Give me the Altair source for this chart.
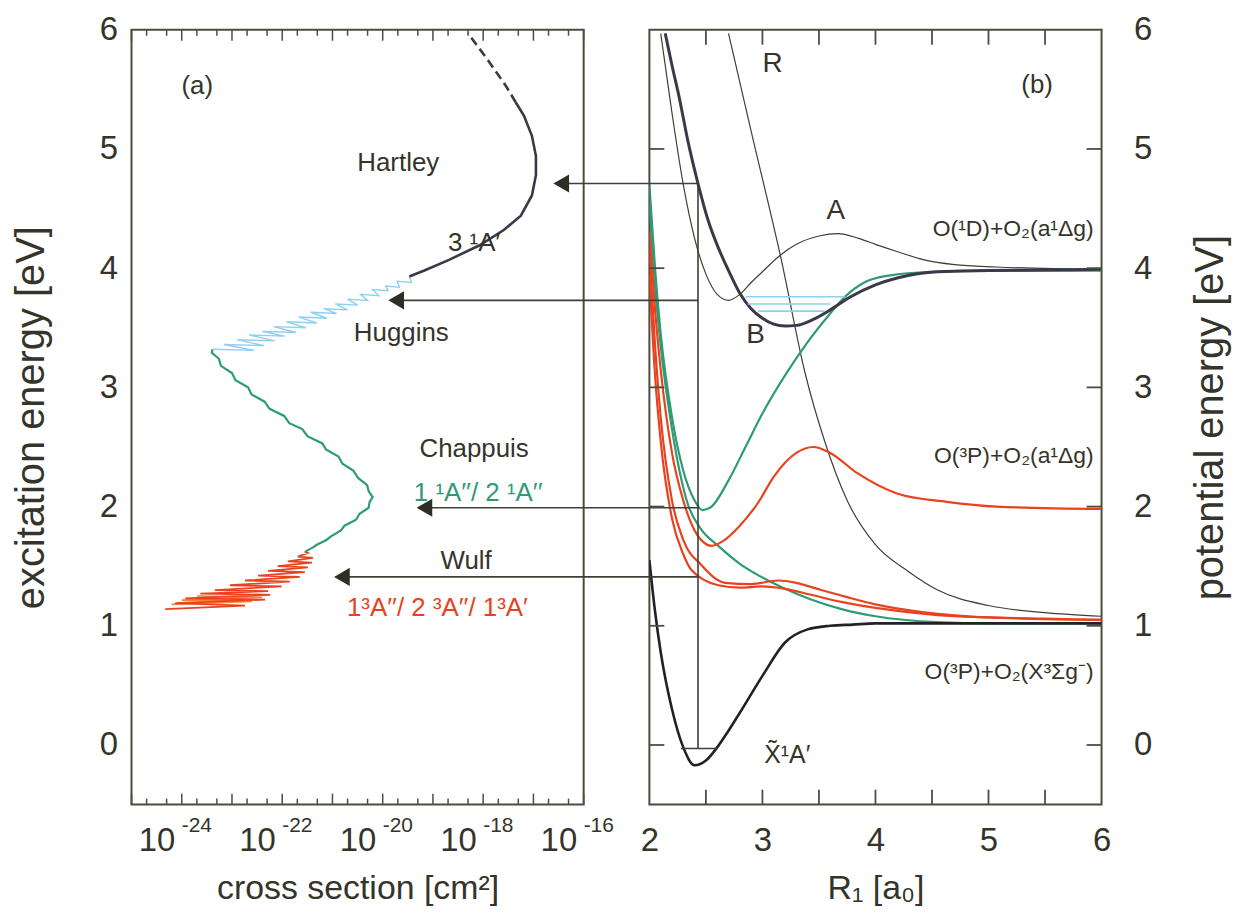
import altair as alt
import pandas as pd

FONT = "Liberation Sans"
INK = "#34342a"
FRAME = "#4d4d3f"
RED = "#e8421e"
ORANGE = "#f3853f"
TEAL = "#2f9b74"
BLUE = "#8fd0f0"
DARK = "#3b3949"
THIN = "#3f3f35"
GROUND = "#222222"

W, H = 454, 778

# ---------------- panel (a): log10(cross section / cm^2) versus excitation energy (eV)
wulf_log = [-24.33, -22.74, -24.13, -22.34, -23.93, -22.24, -23.63, -22.28, -23.34, -22.01,
            -23.04, -21.85, -22.74, -21.65, -22.48, -21.55, -22.28, -21.49, -22.09, -21.41,
            -21.89, -21.39, -21.69, -21.49, -21.55]
wulf_E = [1.14, 1.17, 1.19, 1.22, 1.23, 1.26, 1.27, 1.29, 1.30, 1.33,
          1.34, 1.37, 1.38, 1.41, 1.42, 1.45, 1.46, 1.49, 1.50, 1.53,
          1.54, 1.57, 1.58, 1.61, 1.62]
wulf2_log = [-24.20, -22.60, -24.00, -22.40, -23.70]
wulf2_E = [1.18, 1.205, 1.215, 1.24, 1.25]

chap_log = [-21.55, -21.38, -21.31, -21.12, -21.03, -20.83, -20.76, -20.53, -20.46, -20.28,
            -20.26, -20.20, -20.28, -20.31, -20.49, -20.58, -20.80, -20.88, -21.13, -21.20,
            -21.50, -21.60, -21.86, -21.96, -22.25, -22.35, -22.61, -22.68, -22.93, -23.00,
            -23.22, -23.26, -23.40, -23.39]
chap_E = [1.62, 1.66, 1.68, 1.72, 1.75, 1.80, 1.84, 1.89, 1.94, 1.99,
          2.04, 2.08, 2.13, 2.18, 2.24, 2.30, 2.36, 2.42, 2.48, 2.53,
          2.59, 2.65, 2.70, 2.76, 2.82, 2.88, 2.94, 3.00, 3.06, 3.12,
          3.18, 3.24, 3.29, 3.32]

# Huggins bands: alternating band-edge (low) and band-peak (high) values
hug_log = [-23.39, -22.56, -23.16, -22.36, -22.90, -22.15, -22.66, -21.95, -22.40, -21.73,
           -22.17, -21.53, -21.91, -21.31, -21.67, -21.11, -21.43, -20.92, -21.17, -20.70,
           -20.94, -20.50, -20.70, -20.30, -20.44, -20.08, -20.20, -19.89, -19.94, -19.67,
           -19.71, -19.43, -19.47]
hug_E = [3.32, 3.31, 3.36, 3.35, 3.40, 3.39, 3.44, 3.43, 3.47, 3.46,
         3.51, 3.50, 3.55, 3.54, 3.59, 3.58, 3.63, 3.62, 3.66, 3.65,
         3.70, 3.69, 3.74, 3.73, 3.78, 3.77, 3.82, 3.81, 3.85, 3.84,
         3.89, 3.88, 3.93]

hart_log = [-19.47, -19.17, -18.68, -18.08, -17.59, -17.25, -17.03, -16.95, -16.95, -17.03,
            -17.19, -17.35]
hart_E = [3.93, 3.98, 4.07, 4.19, 4.32, 4.44, 4.61, 4.78, 4.94, 5.11, 5.28, 5.39]
hartd_log = [-17.35, -17.55, -17.88, -18.30]
hartd_E = [5.39, 5.53, 5.73, 5.97]

a_labels = ["(a)", "Hartley", "3 ¹A′", "Huggins", "Chappuis", "1 ¹A′′/ 2 ¹A′′", "Wulf",
            "1³A′′/ 2 ³A′′/ 1³A′"]
a_label_log = [-23.69, -19.69, -18.18, -19.63, -18.18, -18.10, -18.34, -18.91]
a_label_E = [5.53, 4.88, 4.21, 3.46, 2.48, 2.11, 1.54, 1.15]
a_label_col = [INK, INK, INK, INK, INK, TEAL, INK, RED]

a_decades = [-25, -24, -23, -22, -21, -20, -19, -18, -17, -16]
a_minor_factors = [2, 5]
a_label_exps = [-24, -22, -20, -18, -16]

# ---------------- panel (b): potential energy curves
ground_R = [2.0, 2.05, 2.1, 2.2, 2.3, 2.4, 2.5, 2.6, 2.7, 2.8, 3.0, 3.2, 3.4, 3.6, 3.8, 4.0, 5.0, 6.0]
ground_E = [1.55, 1.12, 0.78, 0.30, -0.02, -0.17, -0.13, -0.02, 0.12, 0.27, 0.58, 0.86, 0.97, 1.0, 1.01, 1.02, 1.02, 1.02]

dark_R = [2.14, 2.2, 2.26, 2.34, 2.43, 2.52, 2.61, 2.7, 2.8, 2.9, 3.0, 3.1, 3.2, 3.3, 3.45, 3.6,
          3.78, 4.0, 4.2, 4.55, 5.0, 5.5, 6.0]
dark_E = [5.97, 5.70, 5.45, 5.07, 4.71, 4.40, 4.17, 3.98, 3.79, 3.66, 3.58, 3.53, 3.515, 3.52,
          3.57, 3.65, 3.76, 3.86, 3.92, 3.97, 3.98, 3.985, 3.99]

thinA_R = [2.1, 2.2, 2.3, 2.4, 2.5, 2.6, 2.7, 2.8, 2.9, 3.0, 3.16, 3.3, 3.5, 3.67, 3.85, 4.0,
           4.19, 4.43, 4.7, 5.07, 6.0]
thinA_E = [5.97, 5.3, 4.7, 4.25, 3.95, 3.78, 3.73, 3.78, 3.88, 3.97, 4.11, 4.2, 4.27, 4.29, 4.25,
           4.2, 4.14, 4.07, 4.03, 4.01, 3.99]

thinR_R = [2.70, 2.9, 3.16, 3.38, 3.55, 3.75, 4.0, 4.3, 4.55, 5.0, 5.5, 6.0]
thinR_E = [5.97, 5.15, 4.1, 3.11, 2.55, 2.05, 1.68, 1.45, 1.3, 1.17, 1.11, 1.08]

teal1_R = [2.0, 2.05, 2.1, 2.2, 2.3, 2.4, 2.47, 2.55, 2.7, 2.85, 3.0, 3.2, 3.4, 3.6, 3.73, 3.9,
           4.13, 4.5, 5.0, 6.0]
teal1_E = [4.7, 4.0, 3.45, 2.75, 2.3, 2.05, 1.97, 2.0, 2.22, 2.5, 2.78, 3.1, 3.38, 3.62, 3.76,
           3.88, 3.94, 3.97, 3.98, 3.98]

teal2_R = [2.0, 2.05, 2.1, 2.2, 2.34, 2.45, 2.61, 2.8, 2.99, 3.2, 3.43, 3.7, 4.0, 4.55, 5.0, 6.0]
teal2_E = [4.55, 3.85, 3.35, 2.65, 2.02, 1.82, 1.67, 1.52, 1.41, 1.31, 1.22, 1.14, 1.08, 1.03,
           1.02, 1.02]

red1_R = [2.0, 2.05, 2.1, 2.2, 2.3, 2.4, 2.48, 2.55, 2.65, 2.8, 2.96, 3.1, 3.3, 3.45, 3.6, 3.84,
          4.19, 4.63, 5.07, 6.0]
red1_E = [4.3, 3.65, 3.15, 2.45, 2.05, 1.8, 1.7, 1.67, 1.71, 1.84, 2.03, 2.25, 2.45, 2.5, 2.45,
          2.28, 2.11, 2.04, 2.0, 1.98]

red2_R = [2.0, 2.05, 2.1, 2.2, 2.3, 2.46, 2.67, 2.9, 3.14, 3.3, 3.52, 3.75, 4.0, 4.55, 5.0, 5.5, 6.0]
red2_E = [4.15, 3.35, 2.75, 2.05, 1.72, 1.51, 1.36, 1.35, 1.38, 1.36, 1.30, 1.24, 1.18, 1.10,
          1.07, 1.06, 1.05]

red3_R = [2.0, 2.05, 2.1, 2.2, 2.3, 2.37, 2.61, 2.8, 2.99, 3.2, 3.43, 3.7, 4.0, 4.55, 5.0, 5.5, 6.0]
red3_E = [3.95, 3.1, 2.55, 1.9, 1.6, 1.47, 1.34, 1.32, 1.33, 1.31, 1.26, 1.2, 1.15, 1.09, 1.07,
          1.055, 1.05]

vib_E = [3.76, 3.70, 3.64]
vib_R0 = [2.85, 2.87, 2.96]
vib_R1 = [3.73, 3.60, 3.55]

fc_R = 2.43           # vertical Franck-Condon line
fc_E0, fc_E1 = -0.03, 4.71
zpe_R0, zpe_R1 = 2.28, 2.60

arrow_E = [4.71, 3.73, 1.99, 1.41]
arrow_tip_R = [1.14, -0.32, -0.07, -0.80]

b_labels = ["R", "(b)", "A", "B", "X̃¹A′"]
b_label_R = [3.09, 5.43, 3.65, 2.94, 3.22]
b_label_E = [5.71, 5.54, 4.48, 3.44, -0.08]
b_label_size = [28, 26, 28, 28, 25]

asym_labels = ["O(¹D)+O₂(a¹Δg)", "O(³P)+O₂(a¹Δg)", "O(³P)+O₂(X³Σg⁻)"]
asym_R = [5.93, 5.93, 5.93]
asym_E = [4.33, 2.42, 0.61]

b_xticks = [2.5, 3.0, 3.5, 4.0, 4.5, 5.0, 5.5]
b_yticks = [0, 1, 2, 3, 4, 5]
b_xlabels = [2, 3, 4, 5, 6]
e_labels = [0, 1, 2, 3, 4, 5, 6]

# ---------------- helpers
label_expr = " : ".join(
    f"round(log(datum.value)/LN10) == {e} ? '10'" for e in a_label_exps
) + " : ''"

common_axis = dict(grid=False, domain=False, ticks=False, labelFont=FONT, titleFont=FONT,
                   labelColor=INK, titleColor=INK, titleFontWeight="normal",
                   labelFlush=False, labelOverlap=False)

AX_XA = alt.Axis(values=[10.0 ** e for e in a_label_exps], labelExpr=label_expr,
                 title="cross section [cm²]", labelFontSize=33, labelPadding=20,
                 labelAlign="right", labelOffset=-7,
                 titleFontSize=34, titlePadding=14, **common_axis)
AX_YA = alt.Axis(values=e_labels, format="d", title="excitation energy [eV]",
                 labelFontSize=33, labelPadding=14, titleFontSize=40, titlePadding=48,
                 **common_axis)
AX_XB = alt.Axis(values=b_xlabels, format="d", title="R₁ [a₀]", labelFontSize=33,
                 labelPadding=20, titleFontSize=34, titlePadding=14, **common_axis)
AX_YB = alt.Axis(values=e_labels, format="d", orient="right", title="potential energy [eV]",
                 labelFontSize=33, labelPadding=32, titleFontSize=40, titlePadding=39,
                 titleAngle=270, titleBaseline="top", **common_axis)

SX_A = alt.Scale(type="log", domain=[1e-25, 1e-16], nice=False)
SY = alt.Scale(domain=[-0.5, 6], nice=False, zero=False)
SX_B = alt.Scale(domain=[2, 6], nice=False, zero=False)


def xa(field="s"):
    return alt.X(f"{field}:Q", scale=SX_A, axis=AX_XA)


def ya(field="E"):
    return alt.Y(f"{field}:Q", scale=SY, axis=AX_YA)


def xb(field="R"):
    return alt.X(f"{field}:Q", scale=SX_B, axis=AX_XB)


def yb(field="E"):
    return alt.Y(f"{field}:Q", scale=SY, axis=AX_YB)


def a_line(logs, es, color, width, dash=None):
    df = pd.DataFrame({"s": [10.0 ** v for v in logs], "E": es, "i": range(len(es))})
    kw = dict(color=color, strokeWidth=width)
    if dash:
        kw["strokeDash"] = dash
    return alt.Chart(df).mark_line(**kw).encode(x=xa(), y=ya(), order="i:Q")


def b_line(rs, es, color, width):
    df = pd.DataFrame({"R": rs, "E": es})
    return alt.Chart(df).mark_line(color=color, strokeWidth=width, interpolate="monotone",
                                   clip=True).encode(x=xb(), y=yb())


# ---------------- panel (a)
a_layers = [
    a_line(wulf2_log, wulf2_E, ORANGE, 1.6),
    a_line(wulf_log, wulf_E, RED, 1.8),
    a_line(chap_log, chap_E, TEAL, 2.2),
    a_line(hug_log, hug_E, BLUE, 1.4),
    a_line(hart_log, hart_E, DARK, 2.6),
    a_line(hartd_log, hartd_E, DARK, 2.6, dash=[9, 5]),
]

major = pd.DataFrame({"s": [10.0 ** e for e in a_decades]})
minor = pd.DataFrame({"s": [f * 10.0 ** e for e in a_decades[:-1] for f in a_minor_factors]})
for df, ln in [(major, 11), (minor, 6)]:
    a_layers.append(alt.Chart(df).mark_rule(color=FRAME, strokeWidth=1.5).encode(
        x=xa(), y=alt.value(H), y2=alt.value(H - ln)))
    a_layers.append(alt.Chart(df).mark_rule(color=FRAME, strokeWidth=1.5).encode(
        x=xa(), y=alt.value(0), y2=alt.value(ln)))

# exponents of the "10^n" tick labels, as real superscript text
expo = pd.DataFrame({"s": [10.0 ** e for e in a_label_exps], "t": [str(e) for e in a_label_exps]})
a_layers.append(alt.Chart(expo).mark_text(font=FONT, fontSize=21, color=INK, align="left",
                                          baseline="middle", dx=0).encode(
    x=xa(), y=alt.value(H + 22), text="t:N"))

a_text = pd.DataFrame({"t": a_labels, "s": [10.0 ** v for v in a_label_log], "E": a_label_E,
                       "c": a_label_col})
a_layers.append(alt.Chart(a_text).mark_text(font=FONT, fontSize=26, align="center",
                                            baseline="middle").encode(
    x=xa(), y=ya(), text="t:N", color=alt.Color("c:N", scale=None)))

panel_a = alt.layer(*a_layers).properties(width=W, height=H)

# ---------------- panel (b)
b_layers = [
    b_line(thinR_R, thinR_E, THIN, 1.2),
    b_line(thinA_R, thinA_E, THIN, 1.2),
    b_line(teal1_R, teal1_E, TEAL, 2.2),
    b_line(teal2_R, teal2_E, TEAL, 2.2),
    b_line(red3_R, red3_E, RED, 2.2),
    b_line(red2_R, red2_E, RED, 2.2),
    b_line(red1_R, red1_E, RED, 2.2),
    b_line(dark_R, dark_E, DARK, 3.0),
    b_line(ground_R, ground_E, GROUND, 2.6),
]

vib = pd.DataFrame({"R": vib_R0, "R2": vib_R1, "E": vib_E})
b_layers.append(alt.Chart(vib).mark_rule(color=BLUE, strokeWidth=1.6).encode(
    x=xb(), x2="R2:Q", y=yb()))

fc = pd.DataFrame({"R": [fc_R], "E": [fc_E0], "E2": [fc_E1]})
b_layers.append(alt.Chart(fc).mark_rule(color=THIN, strokeWidth=1.6).encode(
    x=xb(), y=yb(), y2="E2:Q"))
zpe = pd.DataFrame({"R": [zpe_R0], "R2": [zpe_R1], "E": [fc_E0]})
b_layers.append(alt.Chart(zpe).mark_rule(color=THIN, strokeWidth=1.6).encode(
    x=xb(), x2="R2:Q", y=yb()))

arrows = pd.DataFrame({"R": [fc_R] * len(arrow_E), "R2": [r + 0.08 for r in arrow_tip_R],
                       "E": arrow_E})
b_layers.append(alt.Chart(arrows).mark_rule(color=THIN, strokeWidth=1.6).encode(
    x=xb(), x2="R2:Q", y=yb()))
heads = pd.DataFrame({"R": [r + 0.08 for r in arrow_tip_R], "E": arrow_E})
b_layers.append(alt.Chart(heads).mark_point(shape="triangle-left", filled=True, size=330,
                                            color="#2e2e24", opacity=1).encode(
    x=xb(), y=yb()))

bt = pd.DataFrame({"R": b_xticks})
b_layers.append(alt.Chart(bt).mark_rule(color=FRAME, strokeWidth=1.8).encode(
    x=xb(), y=alt.value(H), y2=alt.value(H - 15)))
b_layers.append(alt.Chart(bt).mark_rule(color=FRAME, strokeWidth=1.8).encode(
    x=xb(), y=alt.value(0), y2=alt.value(15)))
byt = pd.DataFrame({"E": b_yticks})
b_layers.append(alt.Chart(byt).mark_rule(color=FRAME, strokeWidth=1.8).encode(
    y=yb(), x=alt.value(W), x2=alt.value(W - 15)))
b_layers.append(alt.Chart(byt).mark_rule(color=FRAME, strokeWidth=1.8).encode(
    y=yb(), x=alt.value(0), x2=alt.value(15)))

b_text = pd.DataFrame({"t": b_labels, "R": b_label_R, "E": b_label_E, "fs": b_label_size})
b_layers.append(alt.Chart(b_text).mark_text(font=FONT, color=INK, align="center",
                                            baseline="middle").encode(
    x=xb(), y=yb(), text="t:N", size=alt.Size("fs:Q", scale=None)))
asym = pd.DataFrame({"t": asym_labels, "R": asym_R, "E": asym_E})
b_layers.append(alt.Chart(asym).mark_text(font=FONT, color=INK, fontSize=23, align="right",
                                          baseline="middle").encode(
    x=xb(), y=yb(), text="t:N"))

panel_b = alt.layer(*b_layers).properties(width=W, height=H)

chart = alt.hconcat(panel_a, panel_b, spacing=66, bounds="flush").properties(
    padding={"left": 2, "top": 3, "right": 5, "bottom": 5}, background="white"
).configure_view(stroke=FRAME, strokeWidth=2)

chart.save("out.html", embed_options={"renderer": "svg", "actions": False})
